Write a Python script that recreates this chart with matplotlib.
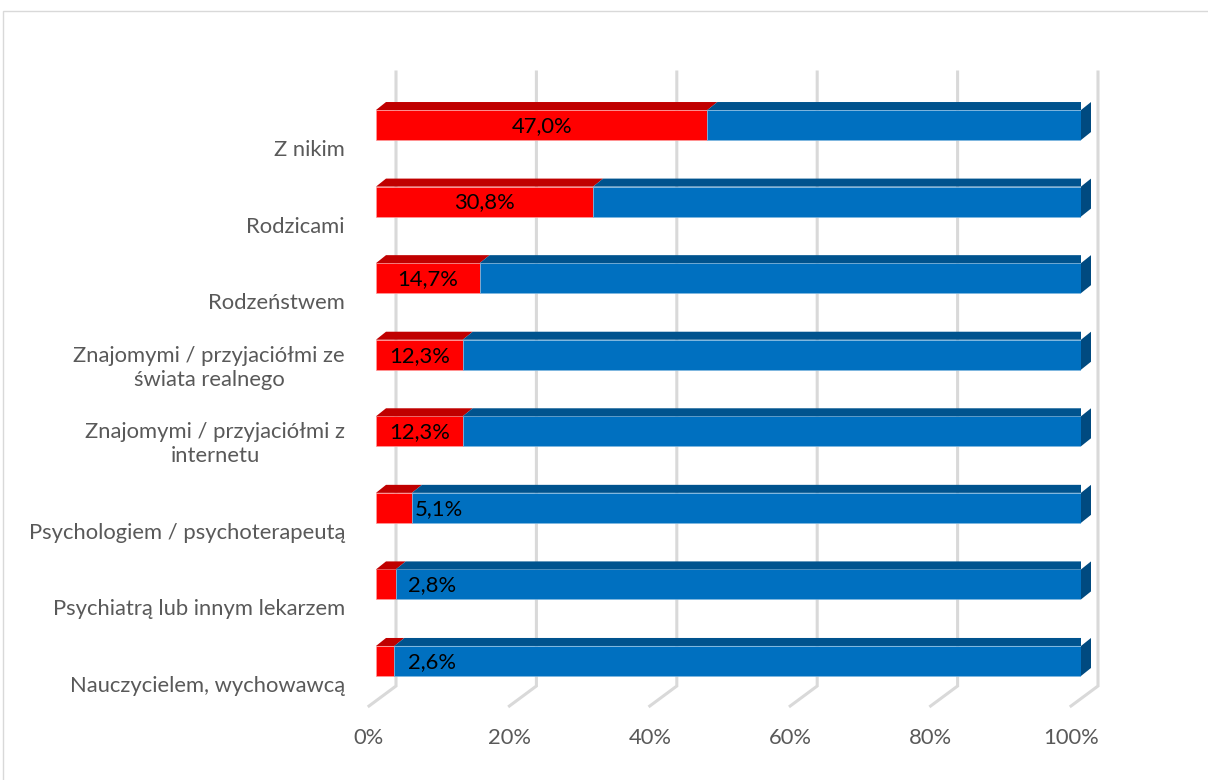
import matplotlib
matplotlib.use("Agg")
import matplotlib.pyplot as plt
from matplotlib.patches import Polygon, Rectangle

# --- data -------------------------------------------------------------
categories = [
    "Z nikim",
    "Rodzicami",
    "Rodzeństwem",
    "Znajomymi / przyjaciółmi ze\nświata realnego",
    "Znajomymi / przyjaciółmi z\ninternetu",
    "Psychologiem / psychoterapeutą",
    "Psychiatrą lub innym lekarzem",
    "Nauczycielem, wychowawcą",
]
share = [47.0, 30.8, 14.7, 12.3, 12.3, 5.1, 2.8, 2.6]
total = [100.0] * len(share)
tick_values = [0, 20, 40, 60, 80, 100]
tick_labels = ["0%", "20%", "40%", "60%", "80%", "100%"]

# --- style ------------------------------------------------------------
plt.rcParams["font.family"] = ["Lato", "DejaVu Sans"]
FS = 15.8
GRAY_TXT = "#595959"
GRID = "#D9D9D9"
RED_FRONT, RED_TOP = "#FF0000", "#C00000"
BLUE_FRONT, BLUE_TOP, BLUE_SIDE = "#0070C0", "#00538E", "#004A80"

W, H = 1208, 780
fig = plt.figure(figsize=(W / 100, H / 100), dpi=100)
fig.patch.set_facecolor("white")

# outer chart frame
fig.patches.append(Rectangle((3 / W, -0.1), 1.2, 1.1 - 11 / H,
                             transform=fig.transFigure, fill=False,
                             edgecolor=GRID, lw=1.0))

# plot area: x in percent, y in category rows (top row = 0)
ax_l, ax_r = 376, 1081
ax_t, ax_b = 67.6, 718.4
ax = fig.add_axes([ax_l / W, 1 - ax_b / H, (ax_r - ax_l) / W, (ax_b - ax_t) / H])
ax.set_xlim(0, 100)
ax.set_ylim(7.75, -0.75)
ax.axis("off")

px_x = (ax_r - ax_l) / 100.0
px_y = (ax_b - ax_t) / 8.5


def dx(p):
    return p / px_x


def dy(p):
    return p / px_y


hh = dy(15)                 # half bar height
ddx, ddy = dx(10), -dy(8)   # bar depth


def back(v):
    return dx(20) + v * (702 / 705)


# gridlines on back wall with floor diagonals
g_top, g_bot, g_floor = dy(72 - 125), dy(686 - 125), dy(706 - 125)
for v, lab in zip(tick_values, tick_labels):
    bx = back(v)
    fx = bx - dx(27)
    ax.plot([bx, bx, fx], [g_top, g_bot, g_floor], color=GRID, lw=2.2,
            solid_joinstyle="miter", clip_on=False, zorder=0)
    ax.text(fx, dy(738 - 125), lab, ha="center", va="center",
            fontsize=FS, color=GRAY_TXT, clip_on=False)

rows = list(range(len(categories)))

# front faces
ax.barh(rows, share, height=2 * hh, color=RED_FRONT, zorder=2,
        edgecolor="#FF9A9A", linewidth=0.5)
rest = [t - s for t, s in zip(total, share)]
ax.barh(rows, rest, left=share, height=2 * hh, color=BLUE_FRONT, zorder=2,
        edgecolor="#7FB7E0", linewidth=0.5)

for i, (s, t) in enumerate(zip(share, total)):
    top = i - hh
    ax.add_patch(Polygon([(0, top), (s, top), (s + ddx, top + ddy), (ddx, top + ddy)],
                         closed=True, facecolor=RED_TOP, edgecolor="none", zorder=2))
    ax.add_patch(Polygon([(s, top), (t, top), (t + ddx, top + ddy), (s + ddx, top + ddy)],
                         closed=True, facecolor=BLUE_TOP, edgecolor="none", zorder=2))
    ax.add_patch(Polygon([(t, top), (t + ddx, top + ddy), (t + ddx, i + hh + ddy), (t, i + hh)],
                         closed=True, facecolor=BLUE_SIDE, edgecolor="none", zorder=2,
                         clip_on=False))

    # value label
    lab = f"{s:.1f}".replace(".", ",") + "%"
    if s >= 10:
        ax.text(s / 2, i + dy(1), lab, ha="center", va="center",
                fontsize=FS, color="black", zorder=3)
    else:
        ax.text(max(s + dx(3), dx(32)), i + dy(1), lab, ha="left", va="center",
                fontsize=FS, color="black", zorder=3)

    # category label
    ax.text(dx(345 - ax_l), i + dy(35), categories[i], ha="right", va="bottom",
            multialignment="center", fontsize=FS, color=GRAY_TXT,
            linespacing=1.25, clip_on=False)

fig.savefig("out.png", dpi=100)
